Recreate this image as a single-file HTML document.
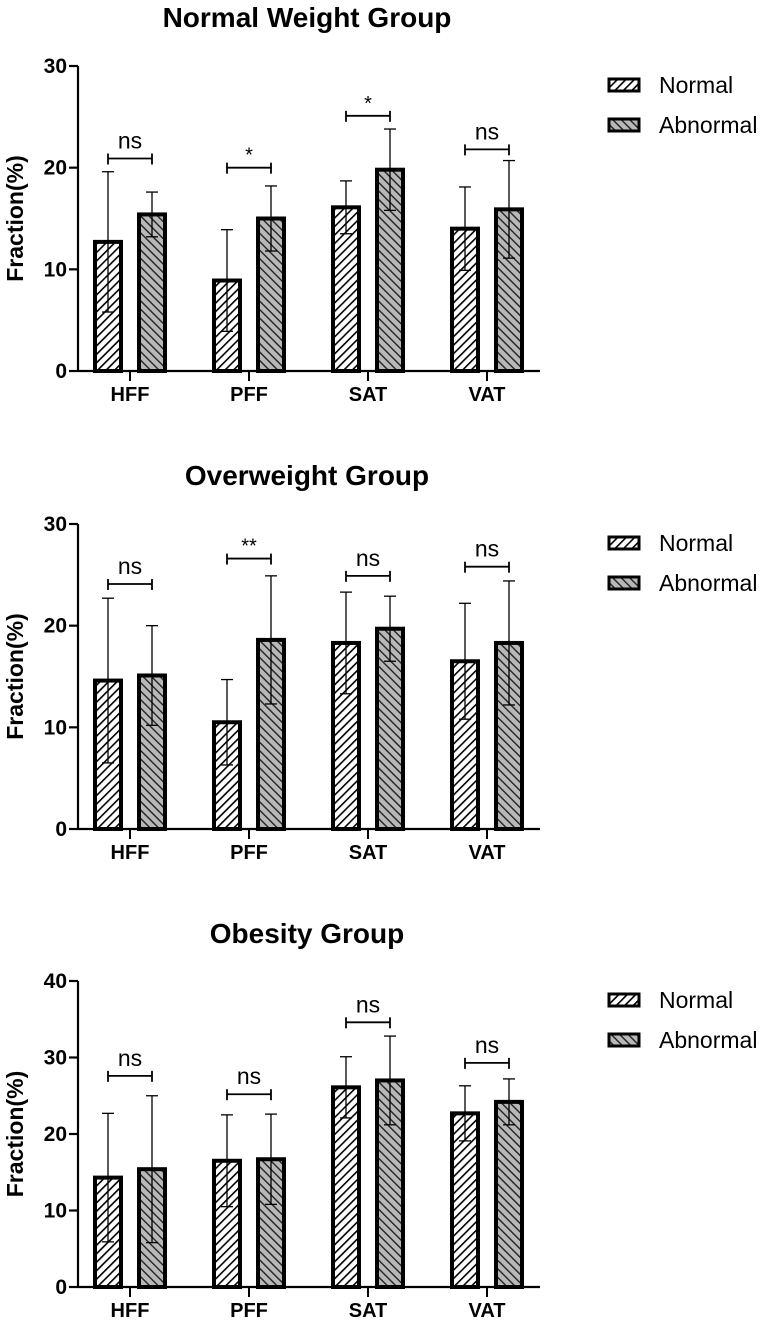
<!DOCTYPE html>
<html><head><meta charset="utf-8">
<style>
html,body{margin:0;padding:0;background:#fff;}
svg{display:block;font-family:"Liberation Sans",Arial,sans-serif;}
</style></head>
<body>
<svg id="chart" width="767" height="1328" viewBox="0 0 767 1328" xmlns="http://www.w3.org/2000/svg">
<defs>
<pattern id="hatchN" patternUnits="userSpaceOnUse" width="6" height="6" patternTransform="rotate(45)">
<rect width="6" height="6" fill="#fff"/><rect x="0" y="0" width="1.6" height="6" fill="#000"/>
</pattern>
<pattern id="hatchA" patternUnits="userSpaceOnUse" width="6" height="6" patternTransform="rotate(-45)">
<rect width="6" height="6" fill="#b8b8b8"/><rect x="0" y="0" width="1.4" height="6" fill="#222"/>
</pattern>
</defs>
</svg>
<script>
const categories = ["HFF","PFF","SAT","VAT"];
const titles = ["Normal Weight Group","Overweight Group","Obesity Group"];
const normalMeans = [[12.7,8.9,16.1,14.0],[14.6,10.5,18.3,16.5],[14.3,16.5,26.1,22.7]];
const normalSD = [[6.9,5.0,2.6,4.1],[8.1,4.2,5.0,5.7],[8.4,6.0,4.0,3.6]];
const abnormalMeans = [[15.4,15.0,19.8,15.9],[15.1,18.6,19.7,18.3],[15.4,16.7,27.0,24.2]];
const abnormalSD = [[2.2,3.2,4.0,4.8],[4.9,6.3,3.2,6.1],[9.6,5.9,5.8,3.0]];
const sigLabels = [["ns","*","*","ns"],["ns","**","ns","ns"],["ns","ns","ns","ns"]];
const sigHeights = [[20.9,20.0,25.1,21.8],[24.1,26.6,24.9,25.8],[27.6,25.2,34.6,29.3]];
const yMax = [30,30,40];
const yTicks = [[0,10,20,30],[0,10,20,30],[0,10,20,30,40]];

const svg = document.getElementById('chart');
const NS = "http://www.w3.org/2000/svg";
function mk(tag, attrs, parent){const e=document.createElementNS(NS,tag);for(const k in attrs)e.setAttribute(k,attrs[k]);(parent||svg).appendChild(e);return e;}

const panels = [{top:66,bottom:371,titleY:27},{top:524,bottom:829,titleY:485},{top:981,bottom:1287,titleY:943}];
const axisX = 78, axisEnd = 540, firstCat = 130, catStep = 119, barOff = 22, barW = 26;

panels.forEach((p, gi) => {
  const g = mk('g', {});
  
  
  const y = v => p.bottom - (v / yMax[gi]) * (p.bottom - p.top);
  const x = i => firstCat + i * catStep;

  const t = mk('text', {x:307, y:p.titleY, 'text-anchor':'middle', 'font-size':28, 'font-weight':'bold'}, g);
  t.textContent = titles[gi];
  
  

  const yt = mk('text', {transform:`translate(23,${(p.top+p.bottom)/2}) rotate(-90)`, 'text-anchor':'middle', 'font-size':23, 'font-weight':'bold'}, g);
  yt.textContent = "Fraction(%)";
  
  

  categories.forEach((c, i) => {
    [[normalMeans, normalSD, -1, 'url(#hatchN)', 'normal'], [abnormalMeans, abnormalSD, 1, 'url(#hatchA)', 'abnormal']].forEach(([M, S, side, fill, nm]) => {
      const m = M[gi][i], s = S[gi][i];
      const cx = x(i) + side * barOff;
      const r = mk('rect', {x:cx - barW/2, y:y(m), width:barW, height:p.bottom - y(m), fill:fill, stroke:'#000', 'stroke-width':4}, g);
      
      
      const eb = mk('g', {stroke:'#000', 'stroke-width':1.3}, g);
      
      
      mk('line', {x1:cx, x2:cx, y1:y(m+s), y2:y(Math.max(m-s,0))}, eb);
      mk('line', {x1:cx-6, x2:cx+6, y1:y(m+s), y2:y(m+s)}, eb);
      mk('line', {x1:cx-6, x2:cx+6, y1:y(Math.max(m-s,0)), y2:y(Math.max(m-s,0))}, eb);
    });
    const by = y(sigHeights[gi][i]);
    const br = mk('g', {stroke:'#000', 'stroke-width':1.8}, g);
    
    
    mk('line', {x1:x(i)-barOff, x2:x(i)+barOff, y1:by, y2:by}, br);
    mk('line', {x1:x(i)-barOff, x2:x(i)-barOff, y1:by-5, y2:by+6}, br);
    mk('line', {x1:x(i)+barOff, x2:x(i)+barOff, y1:by-5, y2:by+6}, br);
    const lbl = sigLabels[gi][i];
    const st = mk('text', {x:x(i), y: lbl==='ns' ? by-10 : by-6, 'text-anchor':'middle', 'font-size': lbl==='ns' ? 23 : 20}, g);
    st.textContent = lbl;
    
    
    mk('line', {x1:x(i), x2:x(i), y1:p.bottom, y2:p.bottom+10, stroke:'#000', 'stroke-width':2}, g);
    const cl = mk('text', {x:x(i), y:p.bottom+30, 'text-anchor':'middle', 'font-size':20, 'font-weight':'bold'}, g);
    cl.textContent = c;
    
    
  });

  const ax = mk('g', {stroke:'#000', 'stroke-width':2.2}, g);
  
  
  mk('line', {x1:axisX, x2:axisX, y1:p.top, y2:p.bottom}, ax);
  mk('line', {x1:axisX, x2:axisEnd, y1:p.bottom, y2:p.bottom}, ax);
  yTicks[gi].forEach(v => {
    mk('line', {x1:axisX-9, x2:axisX, y1:y(v), y2:y(v)}, ax);
    const tl = mk('text', {x:axisX-11, y:y(v)+7, 'text-anchor':'end', 'font-size':21, 'font-weight':'bold', stroke:'none'}, g);
    tl.textContent = v;
    
    
  });

  const lg = mk('g', {}, g);
  
  
  [['Normal','url(#hatchN)',0],['Abnormal','url(#hatchA)',1]].forEach(([n,f,k]) => {
    const ly = p.top + 19 + k*40;
    mk('rect', {x:609, y:ly-6, width:30, height:12, fill:f, stroke:'#000', 'stroke-width':3}, lg);
    const lt = mk('text', {x:659, y:ly+8, 'font-size':23}, lg);
    lt.textContent = n;
    
    
  });
});
</script>
</body></html>
